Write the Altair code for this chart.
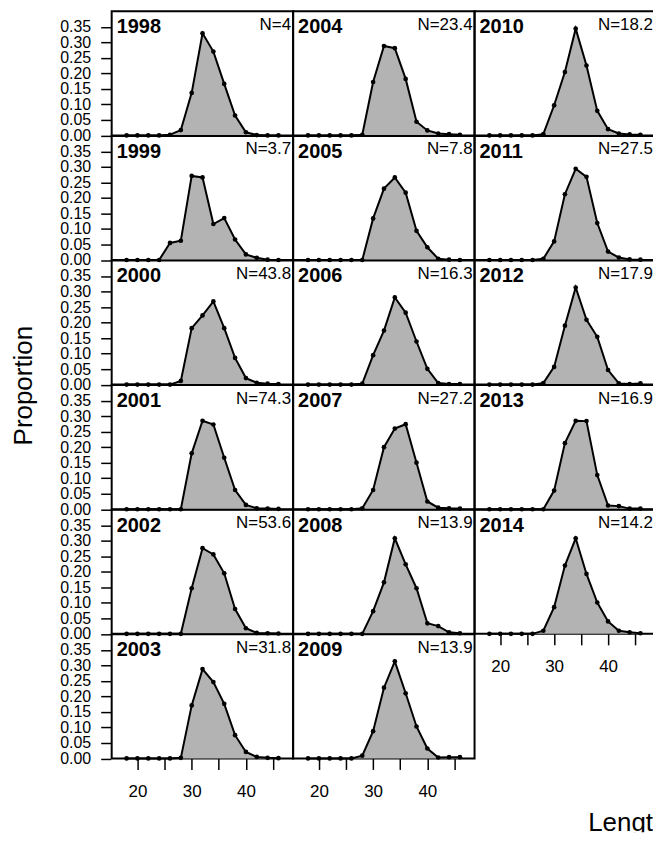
import altair as alt
import pandas as pd

FONT = "Liberation Sans"

LENGTHS = [18, 20, 22, 24, 26, 28, 30, 32, 34, 36, 38, 40, 42, 44, 46]
X_TICKS = [20, 25, 30, 35, 40, 45]
Y_TICKS = [0.0, 0.05, 0.10, 0.15, 0.20, 0.25, 0.30, 0.35]

YEARS = [1998, 1999, 2000, 2001, 2002, 2003, 2004, 2005, 2006,
         2007, 2008, 2009, 2010, 2011, 2012, 2013, 2014]
N_VALUES = [4, 3.7, 43.8, 74.3, 53.6, 31.8, 23.4, 7.8, 16.3,
            27.2, 13.9, 13.9, 18.2, 27.5, 17.9, 16.9, 14.2]

P1998 = [0, 0, 0, 0, 0.002, 0.017, 0.137, 0.329, 0.270, 0.166, 0.064, 0.010, 0.001, 0, 0]
P1999 = [0, 0, 0, 0, 0.055, 0.062, 0.271, 0.266, 0.116, 0.135, 0.066, 0.018, 0.007, 0.001, 0]
P2000 = [0, 0, 0, 0, 0, 0.012, 0.182, 0.223, 0.268, 0.182, 0.086, 0.021, 0.006, 0.003, 0.002]
P2001 = [0, 0, 0, 0, 0, 0, 0.180, 0.285, 0.273, 0.166, 0.062, 0.014, 0.003, 0.002, 0.001]
P2002 = [0, 0, 0, 0, 0, 0, 0.147, 0.276, 0.256, 0.195, 0.080, 0.018, 0.003, 0.002, 0.001]
P2003 = [0, 0, 0, 0, 0, 0.002, 0.171, 0.288, 0.246, 0.176, 0.075, 0.021, 0.005, 0.002, 0.001]
P2004 = [0, 0, 0, 0, 0, 0.002, 0.172, 0.288, 0.281, 0.182, 0.044, 0.016, 0.006, 0.004, 0.002]
P2005 = [0, 0, 0, 0, 0, 0, 0.134, 0.230, 0.266, 0.217, 0.094, 0.041, 0.004, 0.001, 0]
P2006 = [0, 0, 0, 0, 0, 0.003, 0.095, 0.174, 0.281, 0.232, 0.139, 0.051, 0.005, 0.002, 0.002]
P2007 = [0, 0, 0, 0, 0, 0.003, 0.062, 0.200, 0.260, 0.274, 0.150, 0.025, 0.005, 0.003, 0.002]
P2008 = [0, 0, 0, 0, 0, 0, 0.073, 0.166, 0.308, 0.224, 0.147, 0.034, 0.025, 0.005, 0.002]
P2009 = [0, 0, 0, 0, 0, 0.009, 0.088, 0.228, 0.313, 0.210, 0.103, 0.032, 0.003, 0.004, 0.004]
P2010 = [0, 0, 0, 0, 0, 0.004, 0.097, 0.204, 0.344, 0.225, 0.079, 0.020, 0.006, 0.003, 0.002]
P2011 = [0, 0, 0, 0, 0, 0.004, 0.060, 0.212, 0.294, 0.268, 0.119, 0.027, 0.008, 0.002, 0.001]
P2012 = [0, 0, 0, 0, 0, 0.005, 0.057, 0.190, 0.313, 0.209, 0.154, 0.047, 0.004, 0.002, 0.004]
P2013 = [0, 0, 0, 0, 0, 0, 0.060, 0.213, 0.285, 0.284, 0.110, 0.012, 0.010, 0.002, 0.002]
P2014 = [0, 0, 0, 0, 0, 0.010, 0.086, 0.220, 0.308, 0.193, 0.101, 0.040, 0.010, 0.005, 0.002]

PROPS = {
    1998: P1998, 1999: P1999, 2000: P2000, 2001: P2001, 2002: P2002, 2003: P2003,
    2004: P2004, 2005: P2005, 2006: P2006, 2007: P2007, 2008: P2008, 2009: P2009,
    2010: P2010, 2011: P2011, 2012: P2012, 2013: P2013, 2014: P2014,
}
N_BY_YEAR = dict(zip(YEARS, N_VALUES))

PANEL_H = 124.5
X_DOMAIN = [15.25, 48.7]
Y_DOMAIN = [0, 0.4]
COL_W = [182, 182, 181]


def panel(year, width, show_y, show_x, y_title=False):
    df = pd.DataFrame({"Length": LENGTHS, "Proportion": PROPS[year]})
    if show_x:
        x_axis = alt.Axis(values=X_TICKS,
                          labelExpr="datum.value % 10 == 0 ? datum.label : ''",
                          tickSize=11, tickWidth=1.5, tickColor="black",
                          labelPadding=14, labelFontSize=17, labelFont=FONT,
                          labelColor="black", domain=False, grid=False,
                          title=None, labelFlush=False, labelOverlap=False)
    else:
        x_axis = None
    if show_y:
        kw = dict(values=Y_TICKS, format=".2f", tickSize=10,
                  tickWidth=1.5, tickColor="black", offset=1,
                  labelPadding=10, labelFontSize=16, labelFont=FONT,
                  labelColor="black", domain=False, grid=False,
                  labelFlush=False, labelOverlap=False)
        if y_title:
            kw.update(title="Proportion", titleFont=FONT, titleFontSize=26,
                      titleFontWeight="normal", titleColor="black",
                      titleAngle=270, titleAlign="center", titleBaseline="middle",
                      titleX=-87, titleY=0)
        else:
            kw.update(title=None)
        y_axis = alt.Axis(**kw)
    else:
        y_axis = None
    x = alt.X("Length:Q", scale=alt.Scale(domain=X_DOMAIN, nice=False, zero=False), axis=x_axis)
    y = alt.Y("Proportion:Q", scale=alt.Scale(domain=Y_DOMAIN, nice=False), axis=y_axis)
    base = alt.Chart(df).encode(x=x, y=y)
    area = base.mark_area(color="#B3B3B3")
    line = base.mark_line(color="black", strokeWidth=2)
    pts = base.mark_circle(color="black", size=22, opacity=1)
    lab = pd.DataFrame({"year": [str(year)], "n": [f"N={N_BY_YEAR[year]:g}"]})
    ytext = alt.Chart(lab).mark_text(align="left", baseline="alphabetic", font=FONT,
                                     fontSize=20, fontWeight="bold", color="black").encode(
        x=alt.value(5), y=alt.value(22), text="year:N")
    ntext = alt.Chart(lab).mark_text(align="right", baseline="alphabetic", font=FONT,
                                     fontSize=17, color="black").encode(
        x=alt.value(width - 2), y=alt.value(18.5), text="n:N")
    return alt.layer(area, line, pts, ytext, ntext).properties(width=width, height=PANEL_H)


LEN_H = 198.5
length_view = alt.Chart(pd.DataFrame({"t": ["Length"]})).mark_text(
    align="left", baseline="alphabetic", font=FONT, fontSize=26, color="black", clip=True
).encode(x=alt.value(114), y=alt.value(LEN_H - 1), text="t:N").properties(
    width=COL_W[2], height=LEN_H, view=alt.ViewBackground(strokeOpacity=0))

cells = []
for r in range(6):
    y1 = YEARS[r]
    y2 = YEARS[6 + r]
    cells.append(panel(y1, COL_W[0], True, r == 5, y_title=(y1 == 2001)))
    cells.append(panel(y2, COL_W[1], False, r == 5))
    if r < 5:
        y3 = YEARS[12 + r]
        cells.append(panel(y3, COL_W[2], False, r == 4))
    else:
        cells.append(length_view)

chart = alt.concat(*cells, columns=3, spacing=0, bounds="flush").resolve_scale(
    x="independent", y="independent"
).properties(
    padding={"left": 1, "top": 1, "right": -3, "bottom": 0}
).configure_view(stroke="black", strokeWidth=2)

chart.save("out.html", embed_options={"renderer": "svg", "actions": False})
